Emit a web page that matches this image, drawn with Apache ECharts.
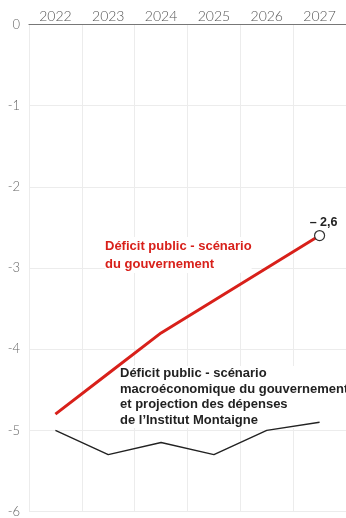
<!DOCTYPE html>
<html><head><meta charset="utf-8">
<script src="https://cdn.jsdelivr.net/npm/echarts@6/dist/echarts.min.js"></script>
<style>html,body{margin:0;padding:0;background:#fff}#c{width:346px;height:518px}</style>
</head><body><div id="c"></div>
<script>
const years = ['2022','2023','2024','2025','2026','2027'];
const govScenario = [-4.8, -4.3, -3.8, -3.4, -3.0, -2.6];
const montaigneScenario = [-5.0, -5.3, -5.15, -5.3, -5.0, -4.9];
const yTicks = [0, -1, -2, -3, -4, -5, -6];
const govLabel = 'Déficit public - scénario\ndu gouvernement';
const montaigneLabel = 'Déficit public - scénario\nmacroéconomique du gouvernement\net projection des dépenses\nde l’Institut Montaigne';
const lastLabel = '– 2,6';

const chart = echarts.init(document.getElementById('c'), null, {renderer:'canvas'});
const govData = govScenario.map((v,i)=> i===govScenario.length-1 ? {
  value:v, symbol:'circle', symbolSize:10,
  itemStyle:{color:'#fff', borderColor:'#333', borderWidth:1.2},
  label:{show:true, position:'top', distance:1, offset:[4,0], formatter:lastLabel, color:'#222', fontWeight:'bold', fontSize:12.5, fontFamily:'Liberation Sans'}
} : {value:v, symbol:'none'});
chart.setOption({
  animation:false,
  grid:{left:29, right:0, top:24.5, bottom:4.5},
  xAxis:{
    type:'category', data:years, position:'top', boundaryGap:true,
    axisLine:{show:true, lineStyle:{color:'#777', width:1.2}},
    axisTick:{show:false},
    axisLabel:{color:'#555', fontSize:14, fontFamily:'Lato', fontWeight:300, margin:1},
    splitLine:{show:true, lineStyle:{color:'#ececec', width:1}}
  },
  yAxis:{
    type:'value', min:-6, max:0, interval:1,
    axisLine:{show:false}, axisTick:{show:false},
    axisLabel:{color:'#666', fontSize:13, fontFamily:'Lato', fontWeight:300, margin:9, formatter:v=>String(v)},
    splitLine:{show:true, lineStyle:{color:'#ececec', width:1}}
  },
  series:[
    {type:'line', data:montaigneScenario, symbol:'none', lineStyle:{color:'#222', width:1.4}, z:5},
    {type:'line', data:govData, lineStyle:{color:'#d8201a', width:3}, z:6}
  ],
  graphic:{elements:[
    {type:'text', left:105, top:237, z:1, style:{text:govLabel, fill:'#d8201a', font:'bold 13px "Liberation Sans", Arial', lineHeight:18, backgroundColor:'#fff'}},
    {type:'text', left:120, top:366, z:1, style:{text:montaigneLabel, fill:'#222', font:'bold 13px "Liberation Sans", Arial', lineHeight:15.5, backgroundColor:'#fff'}}
  ]}
});
</script></body></html>
